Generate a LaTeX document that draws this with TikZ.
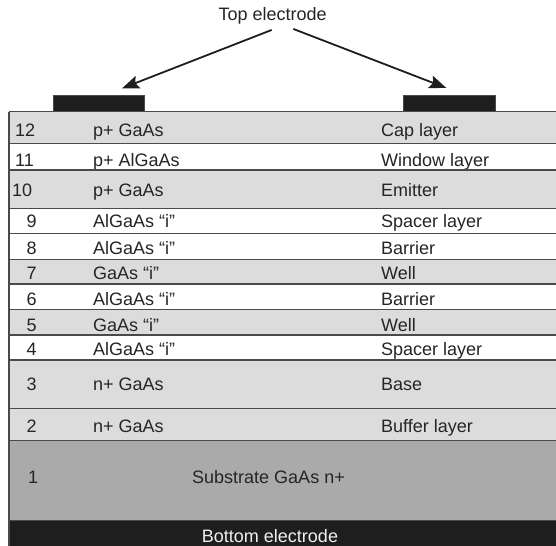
\documentclass[tikz,border=0pt]{standalone}
\usepackage{fontspec}
\setmainfont{Liberation Sans}
\usetikzlibrary{arrows.meta}
\definecolor{layerlight}{HTML}{DCDCDC}
\definecolor{layersub}{HTML}{AAAAAA}
\definecolor{metal}{HTML}{1E1E1E}
\definecolor{edge}{HTML}{4A4A4A}
\definecolor{ink}{HTML}{252525}
\begin{document}
\begin{tikzpicture}[x=1bp,y=-1bp,
  lbl/.style={inner sep=0pt, font=\fontsize{18bp}{21bp}\selectfont, text=ink},
  lft/.style={lbl, anchor=base west},
  mid/.style={lbl, anchor=base},
  sep/.style={draw=edge, line width=1.4bp},
  pad/.style={fill=metal, draw=edge, line width=0.8bp, inner sep=0pt,
    minimum height=16bp, anchor=north west},
  arr/.style={line width=1.8bp, draw=metal,
    -{Stealth[length=17bp, width=13bp, inset=3bp]}}]
\useasboundingbox (0,0) rectangle (556,546);

% epitaxial layers: top / bottom / fill / number / x of number / material / role / baseline
\foreach \top/\bot/\fc/\n/\nx/\mat/\role/\bl in {
  111.7/143.3/layerlight/12/15/p+ GaAs/Cap layer/136.5,
  143.3/170/white/11/15/p+ AlGaAs/Window layer/166.5,
  170/208.3/layerlight/10/12/p+ GaAs/Emitter/196.7,
  208.3/233.3/white/9/26.5/AlGaAs “i”/Spacer layer/227,
  233.3/259.3/white/8/26.5/AlGaAs “i”/Barrier/254,
  259.3/284/layerlight/7/26.5/GaAs “i”/Well/279.5,
  284/309.3/white/6/26.5/AlGaAs “i”/Barrier/305.5,
  309.3/335/layerlight/5/26.5/GaAs “i”/Well/331,
  335/360/white/4/26.5/AlGaAs “i”/Spacer layer/355.5,
  360/408.3/layerlight/3/26.5/n+ GaAs/Base/390,
  408.3/440.7/layerlight/2/26.5/n+ GaAs/Buffer layer/432}
{
  \fill[\fc] (9,\top) rectangle (556,\bot);
  \node[lft] (num-\n) at (\nx,\bl) {\n};
  \node[lft] (mat-\n) at (93,\bl) {\mat};
  \node[lft] (role-\n) at (381,\bl) {\role};
}

% substrate and back contact
\fill[layersub] (9,440.7) rectangle (556,520.7);
\fill[metal] (9,520.7) rectangle (556,546);
\node[lft] (num-1) at (28,483.5) {1};
\node[mid] (substrate) at (268.5,483.5) {Substrate GaAs n+};
\node[mid, text=white!94!black] (bottom) at (270,542.7) {Bottom electrode};

% layer boundaries
\foreach \y in {111.7,143.3,170,208.3,233.3,259.3,284,309.3,335,360,408.3,440.7,520.7}
  \draw[sep] (9,\y) -- (556,\y);
\draw[sep] (9,111.7) -- (9,546);

% top contacts
\node[pad, minimum width=91bp] (padL) at (53.3,95) {};
\node[pad, minimum width=91.7bp] (padR) at (403.3,95) {};

% label and pointers
\node[mid] (title) at (272.7,21) {Top electrode};
\coordinate (fromL) at ([xshift=-1bp, yshift=-5bp]title.south);
\coordinate (fromR) at ([xshift=20.6bp, yshift=-4bp]title.south);
\coordinate (tipL) at ([xshift=22.9bp, yshift=6.7bp]padL.north);
\coordinate (tipR) at ([xshift=-3.2bp, yshift=7bp]padR.north);
\draw[arr] (fromL) -- (tipL);
\draw[arr] (fromR) -- (tipR);
\end{tikzpicture}
\end{document}
